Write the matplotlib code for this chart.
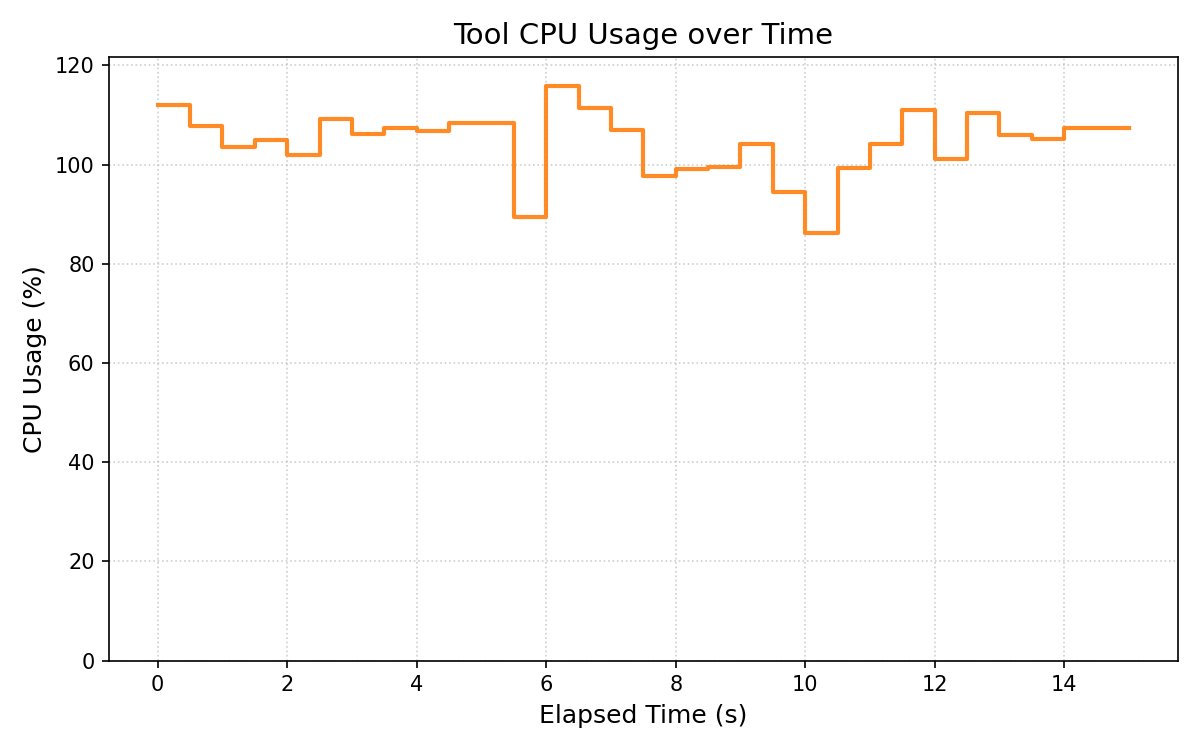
import matplotlib
matplotlib.use("Agg")
import matplotlib.pyplot as plt

# elapsed time (s), one sample every 0.5 s
elapsed = [0.0, 0.5, 1.0, 1.5, 2.0, 2.5, 3.0, 3.5, 4.0, 4.5, 5.0, 5.5, 6.0, 6.5, 7.0,
           7.5, 8.0, 8.5, 9.0, 9.5, 10.0, 10.5, 11.0, 11.5, 12.0, 12.5, 13.0, 13.5,
           14.0, 14.5, 15.0]
# cpu usage (%)
cpu = [112.0, 107.7, 103.5, 104.9, 102.0, 109.1, 106.1, 107.3, 106.7, 108.4, 108.4,
       89.4, 115.9, 111.4, 106.9, 97.8, 99.2, 99.6, 104.1, 94.5, 86.3, 99.4, 104.2,
       111.0, 101.2, 110.4, 105.9, 105.1, 107.3, 107.3, 107.3]

fig, ax = plt.subplots(figsize=(8, 5), dpi=150)
ax.step(elapsed, cpu, where="post", color="#ff7f0e", alpha=0.9, linewidth=2)

ax.set_title("Tool CPU Usage over Time", fontsize=14)
ax.set_xlabel("Elapsed Time (s)", fontsize=12)
ax.set_ylabel("CPU Usage (%)", fontsize=12)
ax.set_ylim(0, max(cpu) * 1.05)
ax.grid(True, linestyle=":", alpha=0.6)

plt.tight_layout()
plt.savefig("out.png")
